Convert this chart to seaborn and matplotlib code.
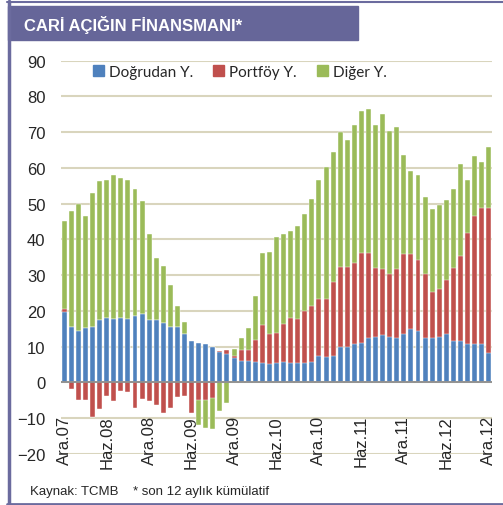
import matplotlib
matplotlib.use('Agg')
import matplotlib.pyplot as plt
from matplotlib.lines import Line2D
from matplotlib.patches import Patch, Rectangle
import numpy as np
import pandas as pd
import seaborn as sns

# 12 aylık kümülatif, milyar $ (Ara.07 - Ara.12, aylık)
dogrudan = [19.6, 15.6, 14.3, 15.1, 15.6, 17.3, 18.1, 17.6, 18.1, 17.6, 18.5, 19.2,
            17.3, 17.3, 16.7, 15.6, 15.6, 13.5, 11.5, 11.1, 10.7, 9.8, 8.4, 7.8,
            6.8, 6.1, 6.1, 5.6, 5.3, 5.0, 5.3, 5.6, 5.3, 5.3, 5.3, 5.6,
            7.3, 7.0, 7.4, 9.8, 9.8, 10.6, 11.1, 12.4, 12.8, 13.1, 12.8, 12.3,
            13.6, 14.9, 14.4, 12.3, 12.3, 12.7, 13.6, 11.5, 11.5, 10.7, 10.7, 10.7,
            8.1]
portfoy = [1.0, -1.9, -4.9, -4.9, -9.8, -7.5, -3.7, -5.3, -2.3, -2.8, -7.3, -4.7,
           -5.1, -6.3, -8.7, -7.3, -4.0, -3.7, -8.5, -5.0, -5.0, -4.5, 0.3, 1.3,
           0.5, 2.8, 2.8, 6.3, 10.6, 8.5, 8.6, 10.8, 12.7, 12.3, 14.7, 15.7,
           16.1, 16.4, 20.6, 22.6, 22.6, 22.7, 25.0, 23.7, 19.3, 18.5, 17.6, 19.3,
           22.2, 20.9, 19.7, 18.1, 13.1, 13.5, 15.1, 20.5, 23.7, 31.2, 35.7, 38.2,
           40.8]
diger = [24.5, 32.4, 35.5, 31.3, 37.4, 39.0, 38.6, 40.3, 39.0, 39.1, 35.7, 31.4,
         24.3, 17.6, 15.8, 11.5, 5.8, 3.3, 0.0, -7.0, -7.8, -8.5, -8.0, -5.8,
         2.0, 3.4, 6.2, 12.3, 20.3, 23.0, 26.8, 25.1, 24.3, 26.0, 27.2, 30.0,
         33.3, 36.9, 36.5, 37.5, 35.4, 38.6, 39.9, 40.3, 40.0, 43.5, 39.9, 39.9,
         27.9, 23.4, 23.8, 21.4, 23.1, 23.5, 22.2, 22.2, 26.0, 14.8, 16.9, 12.8,
         16.8]
tick_labels = ['Ara.07', 'Haz.08', 'Ara.08', 'Haz.09', 'Ara.09', 'Haz.10',
               'Ara.10', 'Haz.11', 'Ara.11', 'Haz.12', 'Ara.12']
series_names = ['Doğrudan Y.', 'Portföy Y.', 'Diğer Y.']
colors = ['#4F81BD', '#C0504D', '#9BBB59']

df = pd.DataFrame({'ay': range(len(dogrudan)), 'd': dogrudan, 'p': portfoy, 'g': diger})
pos = lambda s: s.clip(lower=0)
neg = lambda s: s.clip(upper=0)
# Excel tarzı yığma: pozitifler yukarı, negatifler aşağı
df['g_top'] = df['d'] + pos(df['p']) + pos(df['g'])
df['p_top'] = df['d'] + pos(df['p'])
df['g_bot'] = neg(df['p']) + neg(df['g'])
df['p_bot'] = neg(df['p'])

sns.set_style('white')
plt.rcParams['font.family'] = ['Liberation Sans', 'DejaVu Sans']

fig = plt.figure(figsize=(5.03, 5.06), dpi=100)
ax = fig.add_axes([0.1207, 0.1012, 0.858, 0.777])

# yatay kılavuz çizgileri çubukların arkasında
for yv in range(-20, 91, 10):
    ax.axhline(yv, color='#D9D5BD', linewidth=1.5, zorder=0)

bar_kw = dict(width=0.7, saturation=1, edgecolor='white', linewidth=0.3, ax=ax)
sns.barplot(data=df, x='ay', y='g_top', color=colors[2], **bar_kw)
sns.barplot(data=df, x='ay', y='p_top', color=colors[1], **bar_kw)
sns.barplot(data=df, x='ay', y='d', color=colors[0], **bar_kw)
sns.barplot(data=df, x='ay', y='g_bot', color=colors[2], **bar_kw)
sns.barplot(data=df, x='ay', y='p_bot', color=colors[1], **bar_kw)

ax.set_xlim(-0.5, len(df) - 0.5)
ax.set_ylim(-20, 90)
ax.set_yticks(range(-20, 91, 10))
ax.grid(False)
ax.axhline(0, color='#8C8C8C', linewidth=1.3, zorder=3)
for s in ax.spines.values():
    s.set_visible(False)
ax.set_xlabel('')
ax.set_ylabel('')

ax.set_xticks(range(0, len(df), 6), tick_labels, rotation=90)
ax.tick_params(axis='x', length=0, pad=-28, labelsize=12)
ax.tick_params(axis='y', length=0, pad=11, labelsize=12)

handles = [Patch(color=c) for c in colors]
ax.legend(handles, series_names, loc='center', bbox_to_anchor=(0.477, 0.856),
          bbox_transform=fig.transFigure, ncol=3, frameon=False,
          handlelength=0.7, handleheight=0.7, handletextpad=0.35,
          columnspacing=1.3, prop={'family': 'Lato', 'size': 11})

# çerçeve ve başlık kutusu
frame = '#6B6B9E'
fig.add_artist(Line2D([8.5 / 503, 8.5 / 503], [0.0, 1 - 2 / 506], color=frame, lw=2.5))
fig.add_artist(Line2D([7 / 503, 1.0], [1 - 2.5 / 506, 1 - 2.5 / 506], color=frame, lw=1.5))
fig.add_artist(Line2D([7 / 503, 1.0], [1 - 504.5 / 506, 1 - 504.5 / 506], color=frame, lw=2))
fig.add_artist(Rectangle((8 / 503, 1 - 40.7 / 506), 350 / 503, 34 / 506,
                         transform=fig.transFigure, color='#666699'))
fig.text(24 / 503, 1 - 25.5 / 506, 'CARİ AÇIĞIN FİNANSMANI*', color='white',
         fontsize=12, fontweight='bold', va='center')
fig.text(30 / 503, 1 - 491.5 / 506, 'Kaynak: TCMB    * son 12 aylık kümülatif',
         fontsize=9.5, va='center')

fig.savefig('out.png', dpi=100)
